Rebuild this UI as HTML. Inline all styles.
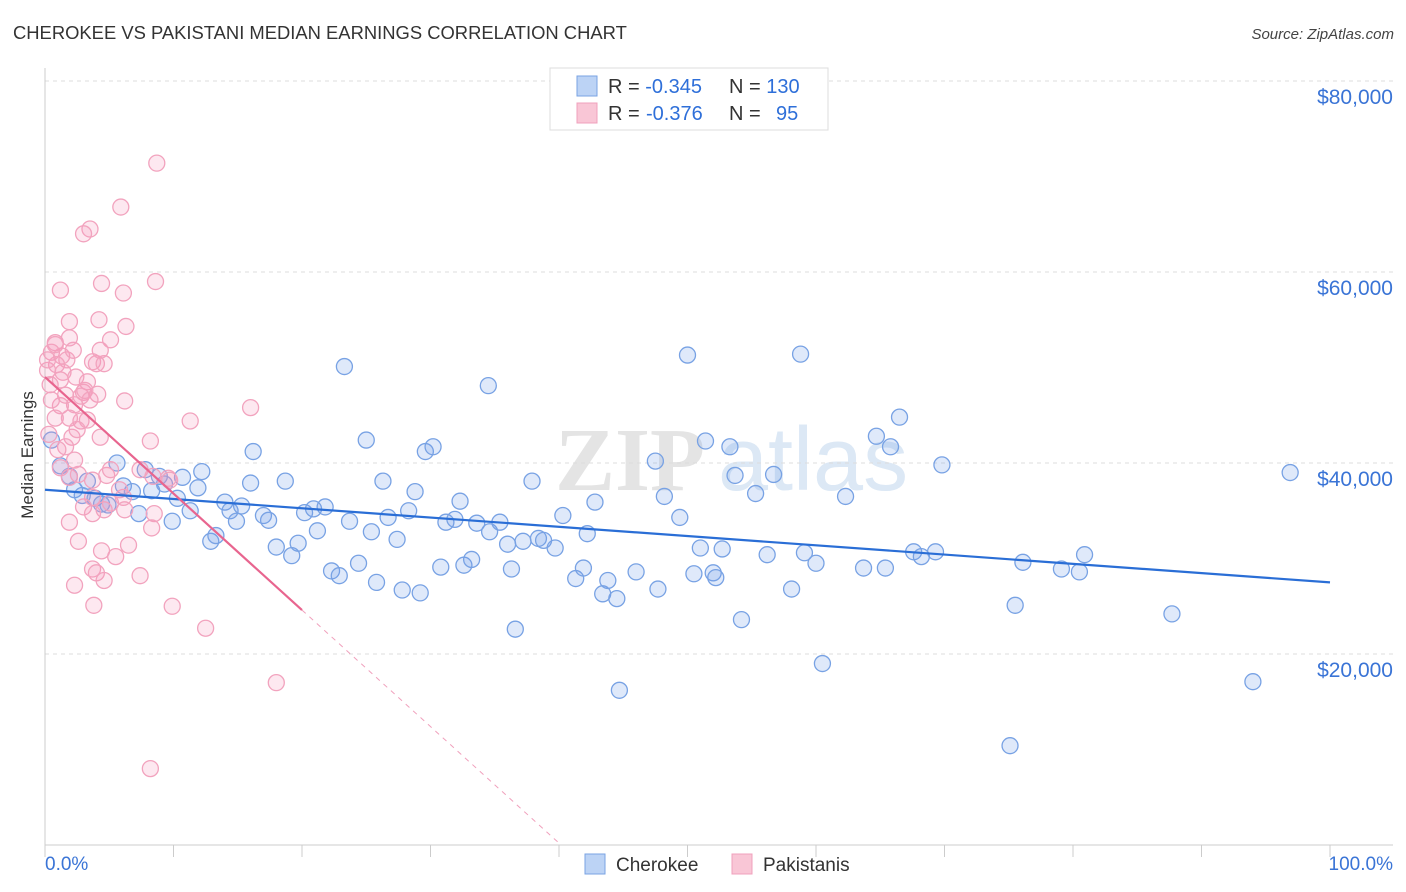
<!DOCTYPE html>
<html><head><meta charset="utf-8">
<style>
body{margin:0;background:#fff;font-family:"Liberation Sans",sans-serif;}
svg{display:block}
</style></head>
<body>
<svg id="chart" width="1406" height="892" xmlns="http://www.w3.org/2000/svg">
<text x="13" y="39" font-size="18.4" fill="#333" font-family="Liberation Sans">CHEROKEE VS PAKISTANI MEDIAN EARNINGS CORRELATION CHART</text>
<text x="1394" y="39" font-size="15" fill="#444" text-anchor="end" font-style="italic">Source: ZipAtlas.com</text>
<g font-size="90" font-family="Liberation Serif">
<text x="555" y="490" fill="#e4e4e4" font-weight="bold">ZIP</text>
<text x="718" y="490" fill="#dce8f5" font-family="Liberation Sans">atlas</text>
</g>
<g id="grid"></g>
<g id="axes"></g>
<g id="pts"></g>
<g id="lines"></g>
<text transform="translate(33,455) rotate(-90)" font-size="17" fill="#333" text-anchor="middle">Median Earnings</text>
<g>
<rect x="550" y="68" width="278" height="62" fill="#fff" stroke="#ddd"/>
<rect x="577" y="76" width="20" height="20" fill="#bcd3f5" stroke="#7aa3e3"/>
<rect x="577" y="103" width="20" height="20" fill="#f9c6d6" stroke="#f0a0bc"/>
<text x="608" y="93" font-size="20" fill="#333">R = <tspan fill="#2e6fd9">-0.345</tspan><tspan x="729">N = </tspan><tspan fill="#2e6fd9">130</tspan></text>
<text x="608" y="120" font-size="20" fill="#333">R = <tspan x="646" fill="#2e6fd9">-0.376</tspan><tspan x="729">N = </tspan><tspan x="776" fill="#2e6fd9">95</tspan></text>
</g>
<g>
<rect x="585" y="854" width="20" height="20" fill="#bcd3f5" stroke="#7aa3e3"/>
<text x="616" y="871" font-size="19" fill="#333">Cherokee</text>
<rect x="732" y="854" width="20" height="20" fill="#f9c6d6" stroke="#f0a0bc"/>
<text x="763" y="871" font-size="19" fill="#333">Pakistanis</text>
</g>
</svg>
<script>
const yTicks=[20000,40000,60000,80000];
const yTickLabels=["$20,000","$40,000","$60,000","$80,000"];
const xTicks=[0,10,20,30,40,50,60,70,80,90,100];
const xEndLabels=["0.0%","100.0%"];
const blueX=[0.5,1.2,1.9,2.3,2.9,3.3,3.9,4.4,4.9,5.6,6.1,6.8,7.3,7.8,8.3,8.9,9.3,9.9,10.3,10.7,11.3,11.9,12.2,12.9,13.3,14.0,14.4,14.9,15.3,16.0,16.2,17.0,17.4,18.0,18.7,19.2,19.7,20.2,20.9,21.2,21.8,22.3,22.9,23.3,23.7,24.4,25.0,25.4,25.8,26.3,26.7,27.4,27.8,28.3,28.8,29.2,29.6,30.2,30.8,31.2,31.9,32.3,32.6,33.2,33.6,34.5,34.6,35.4,36.0,36.3,36.6,37.2,37.9,38.4,38.8,39.7,40.3,41.3,41.9,42.2,42.8,43.4,43.8,44.5,44.7,46.0,47.5,47.7,48.2,49.4,50.0,50.5,51.0,51.4,52.0,52.2,52.7,53.3,53.7,54.2,55.3,56.2,56.7,58.1,58.8,59.1,60.0,60.5,62.3,63.7,64.7,65.4,65.8,66.5,67.6,68.2,69.3,69.8,75.1,75.5,76.1,79.1,80.5,80.9,87.7,94.0,96.9];
const blueY=[42.4,39.7,38.6,37.2,36.6,38.1,36.3,35.7,35.6,40.0,37.6,37.0,34.7,39.3,37.1,38.6,37.8,33.9,36.3,38.5,35.0,37.4,39.1,31.8,32.4,35.9,35.0,33.9,35.5,37.9,41.2,34.5,34.0,31.2,38.1,30.3,31.6,34.8,35.2,32.9,35.4,28.7,28.2,50.1,33.9,29.5,42.4,32.8,27.5,38.1,34.3,32.0,26.7,35.0,37.0,26.4,41.2,41.7,29.1,33.8,34.1,36.0,29.3,29.9,33.7,48.1,32.8,33.8,31.5,28.9,22.6,31.8,38.1,32.1,31.9,31.1,34.5,27.9,29.0,32.6,35.9,26.3,27.7,25.8,16.2,28.6,40.2,26.8,36.5,34.3,51.3,28.4,31.1,42.3,28.5,28.0,31.0,41.7,38.7,23.6,36.8,30.4,38.8,26.8,51.4,30.6,29.5,19.0,36.5,29.0,42.8,29.0,41.7,44.8,30.7,30.2,30.7,39.8,10.4,25.1,29.6,28.9,28.6,30.4,24.2,17.1,39.0];
const pinkX=[8.7,5.9,3.5,3.0,1.2,4.4,6.1,8.6,1.9,4.2,6.3,5.1,0.8,1.9,0.5,1.3,1.7,2.2,0.9,0.2,1.4,2.4,3.3,3.7,4.0,4.6,3.0,4.1,2.8,2.3,1.2,0.5,6.2,0.8,1.9,2.8,3.3,0.3,2.1,1.6,4.3,8.2,11.3,16.0,1.2,1.9,2.6,3.7,4.8,7.4,9.6,8.4,3.7,3.0,4.6,5.1,6.1,6.2,3.7,1.9,8.5,8.3,2.6,6.5,4.4,5.5,3.7,4.0,4.6,2.3,7.4,3.8,9.9,12.5,18.0,8.2,0.2,0.8,1.6,2.5,3.1,1.0,5.1,5.8,9.7,1.2,0.4,3.5,4.3,2.3];
const pinkY=[71.4,66.8,64.5,64.0,58.1,58.8,57.8,59.0,54.8,55.0,54.3,52.9,52.6,53.1,51.6,51.2,50.8,51.8,50.3,49.7,49.5,49.0,48.5,50.6,50.4,50.4,47.4,47.2,47.0,46.1,46.0,46.6,46.5,44.7,44.7,44.4,44.5,43.0,42.7,41.7,42.7,42.3,44.4,45.8,39.5,38.5,38.8,38.2,38.7,39.3,38.4,38.6,36.4,35.4,35.1,35.8,36.4,35.1,34.7,33.8,34.7,33.2,31.8,31.4,30.8,30.2,28.9,28.5,27.7,27.2,28.2,25.1,25.0,22.7,17.0,8.0,50.8,52.4,47.1,43.5,47.6,41.4,39.3,37.2,38.2,48.7,48.2,46.6,51.8,40.3];
const blueTrend=[37.2,27.5];
const pinkTrend=[49.0,-1.22];
const NS="http://www.w3.org/2000/svg";
const X0=45,X1=1330,YB=845,PX_PER_20K=191;
function sx(v){return X0+(X1-X0)*v/100;}
function sy(v){return YB-v*PX_PER_20K/20000;}
function mk(tag,attrs,parent){const e=document.createElementNS(NS,tag);for(const k in attrs)e.setAttribute(k,attrs[k]);parent.appendChild(e);return e;}
const grid=document.getElementById('grid'),axes=document.getElementById('axes'),pts=document.getElementById('pts'),lines=document.getElementById('lines');
yTicks.forEach((t,i)=>{
 const l=mk('line',{x1:X0,x2:1393,y1:sy(t),y2:sy(t),stroke:'#ddd','stroke-dasharray':'4,4'},grid);
 
 
 const tx=mk('text',{x:1393,y:sy(t)+23,'font-size':21,fill:'#3a74d6','text-anchor':'end'},axes);
 tx.textContent=yTickLabels[i];
 
 
});
mk('line',{x1:X0,x2:X0,y1:68,y2:YB,stroke:'#ccc'},axes);
mk('line',{x1:X0,x2:1393,y1:YB,y2:YB,stroke:'#ccc'},axes);
xTicks.forEach(t=>{const l=mk('line',{x1:sx(t),x2:sx(t),y1:YB,y2:YB+12,stroke:'#ccc'},axes);
 
 });
const xl0=mk('text',{x:45,y:870,'font-size':19,fill:'#3a74d6'},axes);xl0.textContent=xEndLabels[0];


const xl1=mk('text',{x:1393,y:870,'font-size':19,fill:'#3a74d6','text-anchor':'end'},axes);xl1.textContent=xEndLabels[1];


blueX.forEach((x,i)=>{const c=mk('circle',{cx:sx(x),cy:sy(blueY[i]*1000),r:8,fill:'rgba(110,155,230,0.22)',stroke:'#78a2e4','stroke-width':1.3},pts);
 
 });
pinkX.forEach((x,i)=>{const c=mk('circle',{cx:sx(x),cy:sy(pinkY[i]*1000),r:8,fill:'rgba(245,150,185,0.22)',stroke:'#f2a3be','stroke-width':1.3},pts);
 
 });
const bl=mk('line',{x1:sx(0),y1:sy(blueTrend[0]*1000),x2:sx(100),y2:sy(blueTrend[1]*1000),stroke:'#2a6ed6','stroke-width':2.2},lines);


const pf=x=>pinkTrend[0]+pinkTrend[1]*x;
const xz=-pinkTrend[0]/pinkTrend[1];
const pl=mk('line',{x1:sx(0),y1:sy(pf(0)*1000),x2:sx(20),y2:sy(pf(20)*1000),stroke:'#e8658f','stroke-width':2.2},lines);


const pd=mk('line',{x1:sx(20),y1:sy(pf(20)*1000),x2:sx(xz),y2:sy(0),stroke:'#f0a0bc','stroke-width':1,'stroke-dasharray':'5,5'},lines);


</script>
</body></html>
